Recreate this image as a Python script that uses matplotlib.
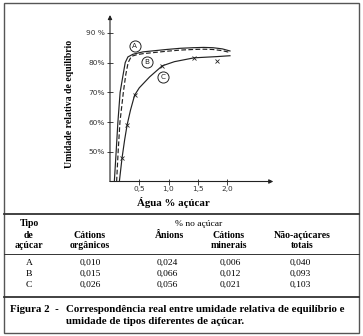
import matplotlib.pyplot as plt
from matplotlib.lines import Line2D

# Curves: water % sugar vs equilibrium relative humidity (%)
a_x = [0.074, 0.105, 0.135, 0.173, 0.216, 0.26, 0.306, 0.392, 0.563, 0.964, 1.2, 1.42, 1.6, 1.76, 1.92, 2.05]
a_y = [40.0, 50.0, 60.0, 70.0, 75.0, 80.0, 81.9, 82.8, 83.6, 84.4, 84.8, 85.0, 85.1, 85.0, 84.6, 83.9]
b_x = [0.113, 0.139, 0.17, 0.228, 0.27, 0.31, 0.365, 0.45, 0.563, 0.964, 1.2, 1.42, 1.6, 1.76, 1.92, 2.05]
b_y = [40.0, 50.0, 60.0, 70.0, 76.0, 80.0, 82.1, 82.6, 83.0, 83.8, 84.2, 84.4, 84.5, 84.4, 84.0, 83.4]
c_x = [0.16, 0.205, 0.25, 0.293, 0.35, 0.42, 0.5, 0.678, 0.892, 1.1, 1.437, 1.82, 2.05]
c_y = [40.0, 47.8, 54.0, 59.1, 64.0, 69.0, 71.5, 75.2, 78.9, 80.3, 81.6, 82.0, 82.3]
c_mark_x = [0.205, 0.293, 0.42, 0.892, 1.437, 1.82]
c_mark_y = [47.8, 59.1, 69.0, 78.9, 81.6, 80.6]

labels = ["A", "B", "C"]
label_x = [0.426, 0.635, 0.906]
label_y = [85.6, 80.2, 75.1]

x_ticks = [0.5, 1.0, 1.5, 2.0]
x_ticklabels = ["0,5", "1,0", "1,5", "2,0"]
y_ticks = [50, 60, 70, 80, 90]
y_ticklabels = ["50%", "60%", "70%", "80%", "90 %"]

# Table: non-sugar contents (% in sugar)
tipos = ["A", "B", "C"]
cations_org = ["0,010", "0,015", "0,026"]
anions = ["0,024", "0,066", "0,056"]
cations_min = ["0,006", "0,012", "0,021"]
nao_acucares = ["0,040", "0,093", "0,103"]

W, H = 363, 336
serif = "Liberation Serif"
ink = "#222222"


def fx(px):
    return px / W


def fy(py):
    return 1 - py / H


fig = plt.figure(figsize=(W / 100, H / 100), dpi=100)
ax = fig.add_axes([fx(110), fy(181.5), 163.3 / W, 166.5 / H])
ax.set_xlim(0, 2.79)
ax.set_ylim(40, 96)

ax.plot(a_x, a_y, color=ink, lw=0.85)
ax.plot(b_x, b_y, color=ink, lw=0.85, dashes=(4, 2))
ax.plot(c_x, c_y, color=ink, lw=0.85)
ax.plot(c_mark_x, c_mark_y, "x", color=ink, ms=2.8, mew=0.6)

for lab, lx, ly in zip(labels, label_x, label_y):
    ax.plot(lx, ly, "o", ms=8, mfc="white", mec=ink, mew=0.7)
    ax.text(lx, ly, lab, fontsize=5.2, ha="center", va="center", color=ink)

# axes drawn as arrows
for s in ax.spines.values():
    s.set_visible(False)
arrow = dict(arrowstyle="-|>", color=ink, lw=0.8, mutation_scale=6, shrinkA=0, shrinkB=0)
ax.annotate("", xy=(1, 0), xytext=(0, 0), xycoords="axes fraction", arrowprops=arrow)
ax.annotate("", xy=(0, 1), xytext=(0, 0), xycoords="axes fraction", arrowprops=arrow)

ax.set_xticks(x_ticks)
ax.set_xticklabels(x_ticklabels)
ax.set_yticks(y_ticks)
ax.set_yticklabels(y_ticklabels)
ax.tick_params(direction="inout", length=4, width=0.6, color=ink,
               labelsize=5.3, labelcolor="#333333")
ax.tick_params(axis="x", pad=1)
ax.tick_params(axis="y", pad=1.5)

fig.text(fx(69), fy(104), "Umidade relativa de equilíbrio", rotation=90,
         fontsize=7, fontweight="bold", family=serif, ha="center", va="center")
fig.text(fx(173), fy(202.5), "Água % açúcar", fontsize=7.8, fontweight="bold",
         family=serif, ha="center", va="center")

# frame and table rules
fig.add_artist(plt.Rectangle((fx(4), fy(333)), fx(355), 330 / H, fill=False,
                             ec="#555555", lw=1.0, transform=fig.transFigure))
for py, lw in [(214, 1.3), (254, 0.7), (297, 1.3)]:
    fig.add_artist(Line2D([fx(4), fx(359)], [fy(py), fy(py)], color="#333333",
                          lw=lw, transform=fig.transFigure))

bold = dict(fontsize=7, fontweight="bold", family=serif, ha="center", va="center")
plain = dict(fontsize=6.8, family=serif, ha="center", va="center")

fig.text(fx(29), fy(224), "Tipo", **bold)
fig.text(fx(29), fy(235), "de", **bold)
fig.text(fx(29), fy(246), "açúcar", **bold)
fig.text(fx(199), fy(224), "% no açúcar", **plain)
fig.text(fx(90), fy(235), "Cátions", **bold)
fig.text(fx(90), fy(246), "orgânicos", **bold)
fig.text(fx(170), fy(235), "Ânions", **bold)
fig.text(fx(229), fy(235), "Cátions", **bold)
fig.text(fx(229), fy(246), "minerais", **bold)
fig.text(fx(302), fy(235), "Não-açúcares", **bold)
fig.text(fx(302), fy(246), "totais", **bold)

row_y = [263, 274, 285]
for i, py in enumerate(row_y):
    fig.text(fx(29), fy(py), tipos[i], **plain)
    fig.text(fx(90), fy(py), cations_org[i], **plain)
    fig.text(fx(167), fy(py), anions[i], **plain)
    fig.text(fx(230), fy(py), cations_min[i], **plain)
    fig.text(fx(300), fy(py), nao_acucares[i], **plain)

cap = dict(fontsize=7.8, fontweight="bold", family=serif, ha="left", va="center")
fig.text(fx(10), fy(310), "Figura 2  -", **cap)
fig.text(fx(66), fy(310), "Correspondência real entre umidade relativa de equilíbrio e", **cap)
fig.text(fx(66), fy(321), "umidade de tipos diferentes de açúcar.", **cap)

fig.savefig("out.png", dpi=100)
